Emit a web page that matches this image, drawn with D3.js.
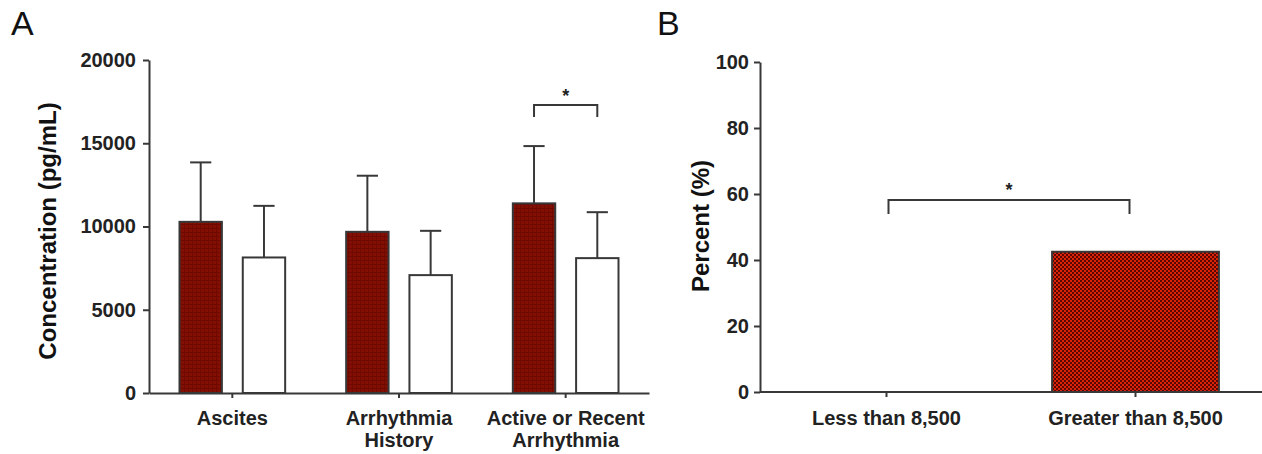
<!DOCTYPE html>
<html>
<head>
<meta charset="utf-8">
<script src="https://cdn.jsdelivr.net/npm/d3@7"></script>
<style>
  html, body { margin: 0; padding: 0; background: #fff; }
  svg { display: block; font-family: "Liberation Sans", Arial, Helvetica, sans-serif; }
</style>
</head>
<body>
<svg id="chart" width="1262" height="454"></svg>
<script>
// panel A: concentration by group
var groupsA = [["Ascites"], ["Arrhythmia", "History"], ["Active or Recent", "Arrhythmia"]];
var seriesA = ["yes", "no"];
var meanYes = [10280, 9680, 11390];
var sdYes   = [3570, 3370, 3440];
var meanNo  = [8140, 7080, 8100];
var sdNo    = [3100, 2660, 2760];
var ticksA  = [0, 5000, 10000, 15000, 20000];

// panel B: percent by threshold
var groupsB = ["Less than 8,500", "Greater than 8,500"];
var valuesB = [0, 42.5];
var ticksB  = [0, 20, 40, 60, 80, 100];

var svg = d3.select("#chart");
var ink = "#383838";

/*
 * Fill patterns for the red bars.
 */
var defs = svg.append("defs");
var patA = defs.append("pattern")
    .attr("id", "patA")
    .attr("patternUnits", "userSpaceOnUse")
    .attr("width", 4).attr("height", 4);
patA.append("rect").attr("width", 4).attr("height", 4).attr("fill", "#830e02");
patA.append("rect").attr("width", 4).attr("height", 1).attr("fill", "#6c0900");
patA.append("rect").attr("width", 1).attr("height", 4).attr("fill", "#700a00");

var patB = defs.append("pattern")
    .attr("id", "patB")
    .attr("patternUnits", "userSpaceOnUse")
    .attr("width", 4).attr("height", 4);
patB.append("rect").attr("width", 4).attr("height", 4).attr("fill", "#dc2208");
patB.append("rect").attr("width", 2).attr("height", 2).attr("fill", "#5a0800");
patB.append("rect").attr("x", 2).attr("y", 2).attr("width", 2).attr("height", 2).attr("fill", "#5a0800");

function styleAxis(g) {
    g.selectAll("path, line").attr("stroke", ink).attr("stroke-width", 2);
    g.selectAll("text")
        .attr("fill", "#222")
        .attr("font-size", "20px")
        .attr("font-weight", "bold");
}

// ---------- panel A ----------
var yA = d3.scaleLinear().domain([0, 20000]).range([393, 60]);
var xA = d3.scaleBand().domain(d3.range(groupsA.length)).range([149, 649]);
var xA1 = d3.scaleBand().domain(seriesA).range([30.5, xA.bandwidth() - 30.5]).paddingInner(0.33);

var gA = svg.append("g");

gA.append("g")
    .attr("transform", "translate(149,0)")
    .call(d3.axisLeft(yA).tickValues(ticksA).tickFormat(d3.format("d")).tickSize(6).tickPadding(7).tickSizeOuter(0))
    .call(styleAxis);

gA.append("g")
    .attr("transform", "translate(0,393)")
    .call(d3.axisBottom(xA).tickSize(5).tickSizeOuter(0).tickFormat(""))
    .call(styleAxis);

// category labels (may be two lines)
gA.selectAll(".catA")
    .data(groupsA)
    .enter()
    .append("text")
    .attr("class", "catA")
    .attr("text-anchor", "middle")
    .attr("font-size", "20px")
    .attr("font-weight", "bold")
    .attr("fill", "#222")
    .each(function(d, i) {
        var t = d3.select(this);
        d.forEach(function(line, j) {
            t.append("tspan")
                .attr("x", xA(i) + xA.bandwidth() / 2)
                .attr("y", 425 + j * 22)
                .text(line);
        });
    });

var barsA = [];
groupsA.forEach(function(g, i) {
    barsA.push({g: i, s: "yes", v: meanYes[i], e: sdYes[i]});
    barsA.push({g: i, s: "no", v: meanNo[i], e: sdNo[i]});
});

function barX(d) { return xA(d.g) + xA1(d.s); }
function barC(d) { return barX(d) + xA1.bandwidth() / 2; }

// error bars (upper only)
gA.selectAll(".errA")
    .data(barsA)
    .enter()
    .append("line")
    .attr("x1", barC).attr("x2", barC)
    .attr("y1", function(d) { return yA(d.v); })
    .attr("y2", function(d) { return yA(d.v + d.e); })
    .attr("stroke", ink).attr("stroke-width", 2);

gA.selectAll(".capA")
    .data(barsA)
    .enter()
    .append("line")
    .attr("x1", function(d) { return barC(d) - xA1.bandwidth() / 4; })
    .attr("x2", function(d) { return barC(d) + xA1.bandwidth() / 4; })
    .attr("y1", function(d) { return yA(d.v + d.e); })
    .attr("y2", function(d) { return yA(d.v + d.e); })
    .attr("stroke", ink).attr("stroke-width", 2);

gA.selectAll(".barA")
    .data(barsA)
    .enter()
    .append("rect")
    .attr("x", barX)
    .attr("y", function(d) { return yA(d.v); })
    .attr("width", xA1.bandwidth())
    .attr("height", function(d) { return yA(0) - yA(d.v); })
    .attr("fill", function(d) { return d.s == "yes" ? "url(#patA)" : "#fff"; })
    .attr("stroke", ink).attr("stroke-width", 2);

// significance bracket over the third group
var sigA = [{g: 2, y: 105, drop: 12}];
sigA.forEach(function(s) {
    var x1 = xA(s.g) + xA1("yes") + xA1.bandwidth() / 2;
    var x2 = xA(s.g) + xA1("no") + xA1.bandwidth() / 2;
    gA.append("path")
        .attr("d", "M" + x1 + "," + (s.y + s.drop) + "V" + s.y + "H" + x2 + "V" + (s.y + s.drop))
        .attr("fill", "none").attr("stroke", ink).attr("stroke-width", 2);
    gA.append("text")
        .attr("x", (x1 + x2) / 2).attr("y", s.y - 3)
        .attr("text-anchor", "middle")
        .attr("font-size", "18px").attr("font-weight", "bold").attr("fill", "#222")
        .text("*");
});

gA.append("text")
    .attr("transform", "translate(56,231) rotate(-90)")
    .attr("text-anchor", "middle")
    .attr("font-size", "24px")
    .attr("font-weight", "bold")
    .attr("fill", "#111")
    .text("Concentration (pg/mL)");

svg.append("text")
    .attr("x", 11).attr("y", 35)
    .attr("font-size", "34px")
    .attr("fill", "#111")
    .text("A");

// ---------- panel B ----------
var yB = d3.scaleLinear().domain([0, 100]).range([392, 62]);
var xB = d3.scaleBand().domain(groupsB).range([762, 1260]).paddingInner(0.33).paddingOuter(0.165);

var gB = svg.append("g");

gB.append("g")
    .attr("transform", "translate(760,0)")
    .call(d3.axisLeft(yB).tickValues(ticksB).tickSize(6).tickPadding(5).tickSizeOuter(0))
    .call(styleAxis);

gB.append("g")
    .attr("transform", "translate(0,392)")
    .call(d3.axisBottom(xB).tickSize(5).tickPadding(14).tickSizeOuter(0))
    .call(function(g) {
        g.select(".domain").attr("d", "M760,0H1262");
    })
    .call(styleAxis);

gB.selectAll(".barB")
    .data(groupsB.map(function(g, i) { return {g: g, v: valuesB[i]}; }).filter(function(d) { return d.v > 0; }))
    .enter()
    .append("rect")
    .attr("x", function(d) { return xB(d.g); })
    .attr("y", function(d) { return yB(d.v); })
    .attr("width", xB.bandwidth())
    .attr("height", function(d) { return yB(0) - yB(d.v); })
    .attr("fill", "url(#patB)")
    .attr("stroke", ink).attr("stroke-width", 2);

var sigB = {y: 200, drop: 14};
(function() {
    var x1 = xB(groupsB[0]) + xB.bandwidth() / 2 + 2;
    var x2 = xB(groupsB[1]) + xB.bandwidth() / 2 - 6;
    gB.append("path")
        .attr("d", "M" + x1 + "," + (sigB.y + sigB.drop) + "V" + sigB.y + "H" + x2 + "V" + (sigB.y + sigB.drop))
        .attr("fill", "none").attr("stroke", ink).attr("stroke-width", 2);
    gB.append("text")
        .attr("x", (x1 + x2) / 2).attr("y", sigB.y - 4)
        .attr("text-anchor", "middle")
        .attr("font-size", "18px").attr("font-weight", "bold").attr("fill", "#222")
        .text("*");
})();

gB.append("text")
    .attr("transform", "translate(709,226) rotate(-90)")
    .attr("text-anchor", "middle")
    .attr("font-size", "24px")
    .attr("font-weight", "bold")
    .attr("fill", "#111")
    .text("Percent (%)");

svg.append("text")
    .attr("x", 657).attr("y", 35)
    .attr("font-size", "34px")
    .attr("fill", "#111")
    .text("B");
</script>
</body>
</html>
